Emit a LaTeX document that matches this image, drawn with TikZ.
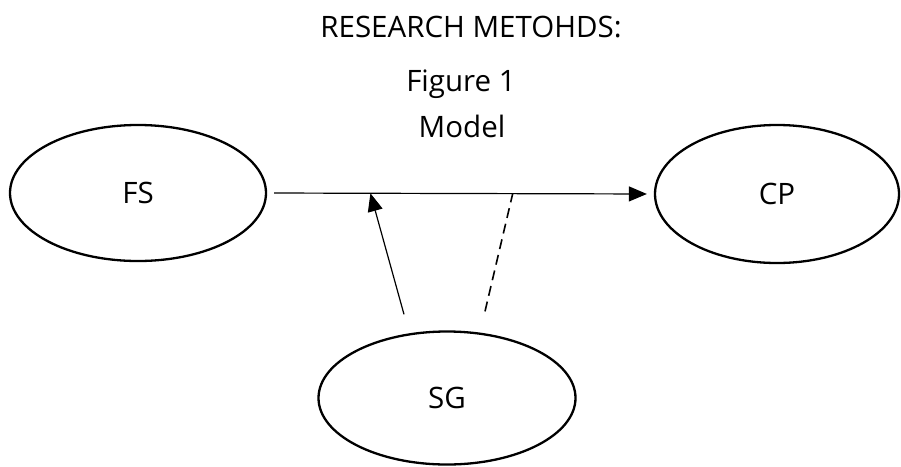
\documentclass[tikz,border=0pt]{standalone}
\usepackage{fontspec}
\setmainfont{Open Sans}
\usepackage{tikz}
\usetikzlibrary{arrows.meta,calc,shapes.geometric}

\begin{document}
\begin{tikzpicture}[
  x=1pt, y=-1pt,
  font=\fontsize{29.5}{34}\selectfont,
  varbox/.style={draw, ellipse, line width=2.3pt, inner sep=0pt},
  heading/.style={anchor=base, inner sep=0pt},
  link/.style={line width=1.2pt, -{Triangle[length=18pt, width=15pt]}},
  dashlink/.style={line width=1.6pt, dash pattern=on 10pt off 6pt}
]
\useasboundingbox (0,0) rectangle (901,466);

% titles
\node[heading] (title) at (471,37) {RESEARCH METOHDS:};
\node[heading] (fig) at (461,91) {Figure 1};
\node[heading] (model) at (462,137) {Model};

% variables
\node[varbox, minimum width=256pt, minimum height=136pt] (FS) at (138,193) {FS};
\node[varbox, minimum width=244pt, minimum height=138pt] (CP) at (777,194) {CP};
\node[varbox, minimum width=257pt, minimum height=133pt] (SG) at (447,398) {SG};

% points on the main path
\coordinate (modIn) at ($(FS.east)!0.267!(CP.west)$);
\coordinate (modDash) at ($(FS.east)!0.635!(CP.west)$);

\draw[link, shorten <=7pt, shorten >=7pt] (FS.east) -- (CP.west);
\draw[link] ([xshift=-43pt, yshift=16pt]SG.north) -- (modIn);
\draw[dashlink] ([xshift=38pt, yshift=19pt]SG.north) -- (modDash);

\end{tikzpicture}
\end{document}
